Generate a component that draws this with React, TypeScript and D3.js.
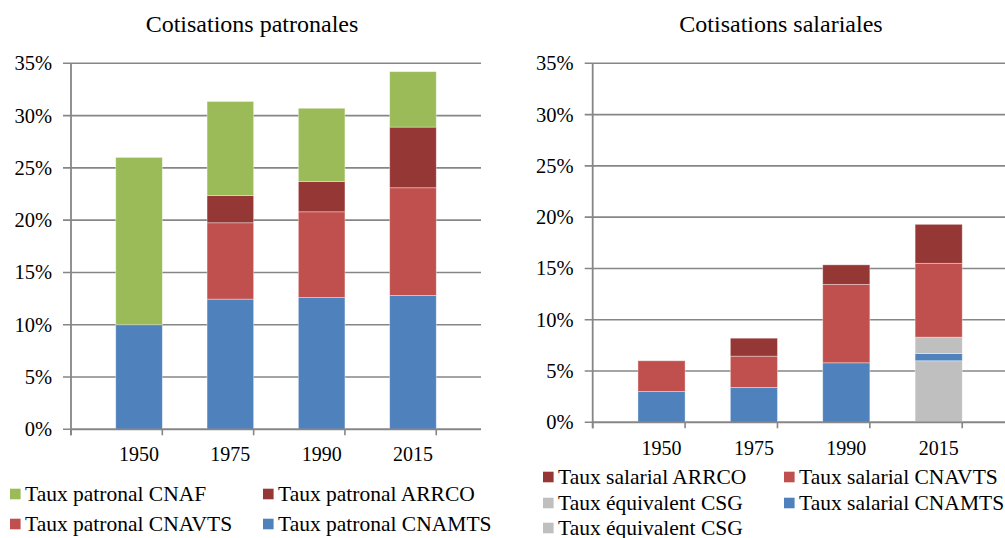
import React from 'react';
import * as d3 from 'd3';

// categories
const years = ['1950', '1975', '1990', '2015'];

// Cotisations patronales (%), stacked bottom -> top
const patCNAMTS = [10, 12.45, 12.6, 12.8];
const patCNAVTS = [0, 7.3, 8.2, 10.3];
const patARRCO = [0, 2.6, 2.9, 5.8];
const patCNAF = [16, 9, 7, 5.3];

// Cotisations salariales (%), stacked bottom -> top
const salCSGa = [0, 0, 0, 6];
const salCNAMTS = [3, 3.4, 5.8, 0.7];
const salCSGb = [0, 0, 0, 1.6];
const salCNAVTS = [3, 3.05, 7.65, 7.2];
const salARRCO = [0, 1.75, 1.9, 3.8];

const yTicks = [0, 5, 10, 15, 20, 25, 30, 35];

const BLUE = '#4F81BD';
const RED = '#C0504D';
const DARK = '#953735';
const GREEN = '#9BBB59';
const GREY = '#BFBFBF';
const AXIS = '#868686';
const FONT = 'Liberation Serif';
const titleStyle = { fontFamily: FONT, fontSize: '24px' };
const tickStyle = { fontFamily: FONT, fontSize: '20.5px' };
const yearStyle = { fontFamily: FONT, fontSize: '20px' };
const legendStyle = { fontFamily: FONT, fontSize: '21.5px' };

type Series = { label: string; values: number[]; color: string };

const patSeries: Series[] = [
  { label: 'Taux patronal CNAMTS', values: patCNAMTS, color: BLUE },
  { label: 'Taux patronal CNAVTS', values: patCNAVTS, color: RED },
  { label: 'Taux patronal ARRCO', values: patARRCO, color: DARK },
  { label: 'Taux patronal CNAF', values: patCNAF, color: GREEN },
];

const salSeries: Series[] = [
  { label: 'Taux équivalent CSG', values: salCSGa, color: GREY },
  { label: 'Taux salarial CNAMTS', values: salCNAMTS, color: BLUE },
  { label: 'Taux équivalent CSG', values: salCSGb, color: GREY },
  { label: 'Taux salarial CNAVTS', values: salCNAVTS, color: RED },
  { label: 'Taux salarial ARRCO', values: salARRCO, color: DARK },
];

type PanelProps = {
  title: string;
  titleX: number;
  series: Series[];
  left: number;
  right: number;
  top: number;
  bottom: number;
  yearY: number;
  legend: { idx: number; x: number; y: number }[];
};

const Panel = ({ title, titleX, series, left, right, top, bottom, yearY, legend }: PanelProps) => {
  const x = d3.scaleBand().domain(years).range([left, right]).padding(0.49);
  const y = d3.scaleLinear().domain([0, 35]).range([bottom, top]);

  const table = years.map((yr, i) => {
    const row: any = { year: yr };
    series.forEach((s, k) => (row['s' + k] = s.values[i]));
    return row;
  });
  const stack = d3.stack().keys(series.map((_, k) => 's' + k))(table);

  const step = x.step();
  const edges = d3.range(years.length + 1).map((i) => left + i * step);

  return (
    <g>
      <text x={titleX} y={32} textAnchor="middle" style={titleStyle} fill="#000">
        {title}
      </text>
      {yTicks.map((t) => (
        <g key={t}>
          <line x1={left - 8} x2={right} y1={y(t)} y2={y(t)} stroke={AXIS} strokeWidth={1.6} />
          <text x={left - 19} y={y(t) + 7} textAnchor="end" style={tickStyle}>
            {t}%
          </text>
        </g>
      ))}
      {stack.map((layer, k) =>
        layer.map((d, i) =>
          d[1] - d[0] > 0 ? (
            <rect
              key={k + '-' + i}
              x={x(years[i])}
              width={x.bandwidth()}
              y={y(d[1])}
              height={y(d[0]) - y(d[1])}
              fill={series[k].color}
              stroke="rgba(255,255,255,0.45)"
              strokeWidth={0.8}
            />
          ) : null
        )
      )}
      <line x1={left} x2={left} y1={top} y2={bottom + 6} stroke={AXIS} strokeWidth={1.8} />
      <line x1={left} x2={right} y1={bottom} y2={bottom} stroke={AXIS} strokeWidth={1.8} />
      {edges.map((e, i) => (
        <line key={i} x1={e} x2={e} y1={bottom} y2={bottom + 6} stroke={AXIS} strokeWidth={1.6} />
      ))}
      {years.map((yr) => (
        <text
          key={yr}
          x={(x(yr) as number) + x.bandwidth() / 2}
          y={yearY}
          textAnchor="middle"
          style={yearStyle}
        >
          {yr}
        </text>
      ))}
      {legend.map((l, i) => (
        <g key={i}>
          <rect x={l.x} y={l.y - 5.3} width={10.6} height={10.6} fill={series[l.idx].color} />
          <text x={l.x + 15} y={l.y + 6.5} style={legendStyle}>
            {series[l.idx].label}
          </text>
        </g>
      ))}
    </g>
  );
};

export default function App() {
  return (
    <div>
      <style>{'body{margin:0;background:#fff}'}</style>
      <svg width={1005} height={538} style={{ display: 'block' }}>
        <rect width={1005} height={538} fill="#fff" />
        <Panel
          title="Cotisations patronales"
          titleX={252}
          series={patSeries}
          left={71}
          right={481}
          top={63.3}
          bottom={429.3}
          yearY={461}
          legend={[
            { idx: 3, x: 10, y: 494 },
            { idx: 2, x: 263, y: 494 },
            { idx: 1, x: 10, y: 524 },
            { idx: 0, x: 263, y: 524 },
          ]}
        />
        <Panel
          title="Cotisations salariales"
          titleX={781}
          series={salSeries}
          left={592.7}
          right={1007.5}
          top={63.3}
          bottom={422.3}
          yearY={455}
          legend={[
            { idx: 4, x: 543, y: 477 },
            { idx: 3, x: 784, y: 477 },
            { idx: 2, x: 543, y: 503 },
            { idx: 1, x: 784, y: 503 },
            { idx: 0, x: 543, y: 528 },
          ]}
        />
      </svg>
    </div>
  );
}
